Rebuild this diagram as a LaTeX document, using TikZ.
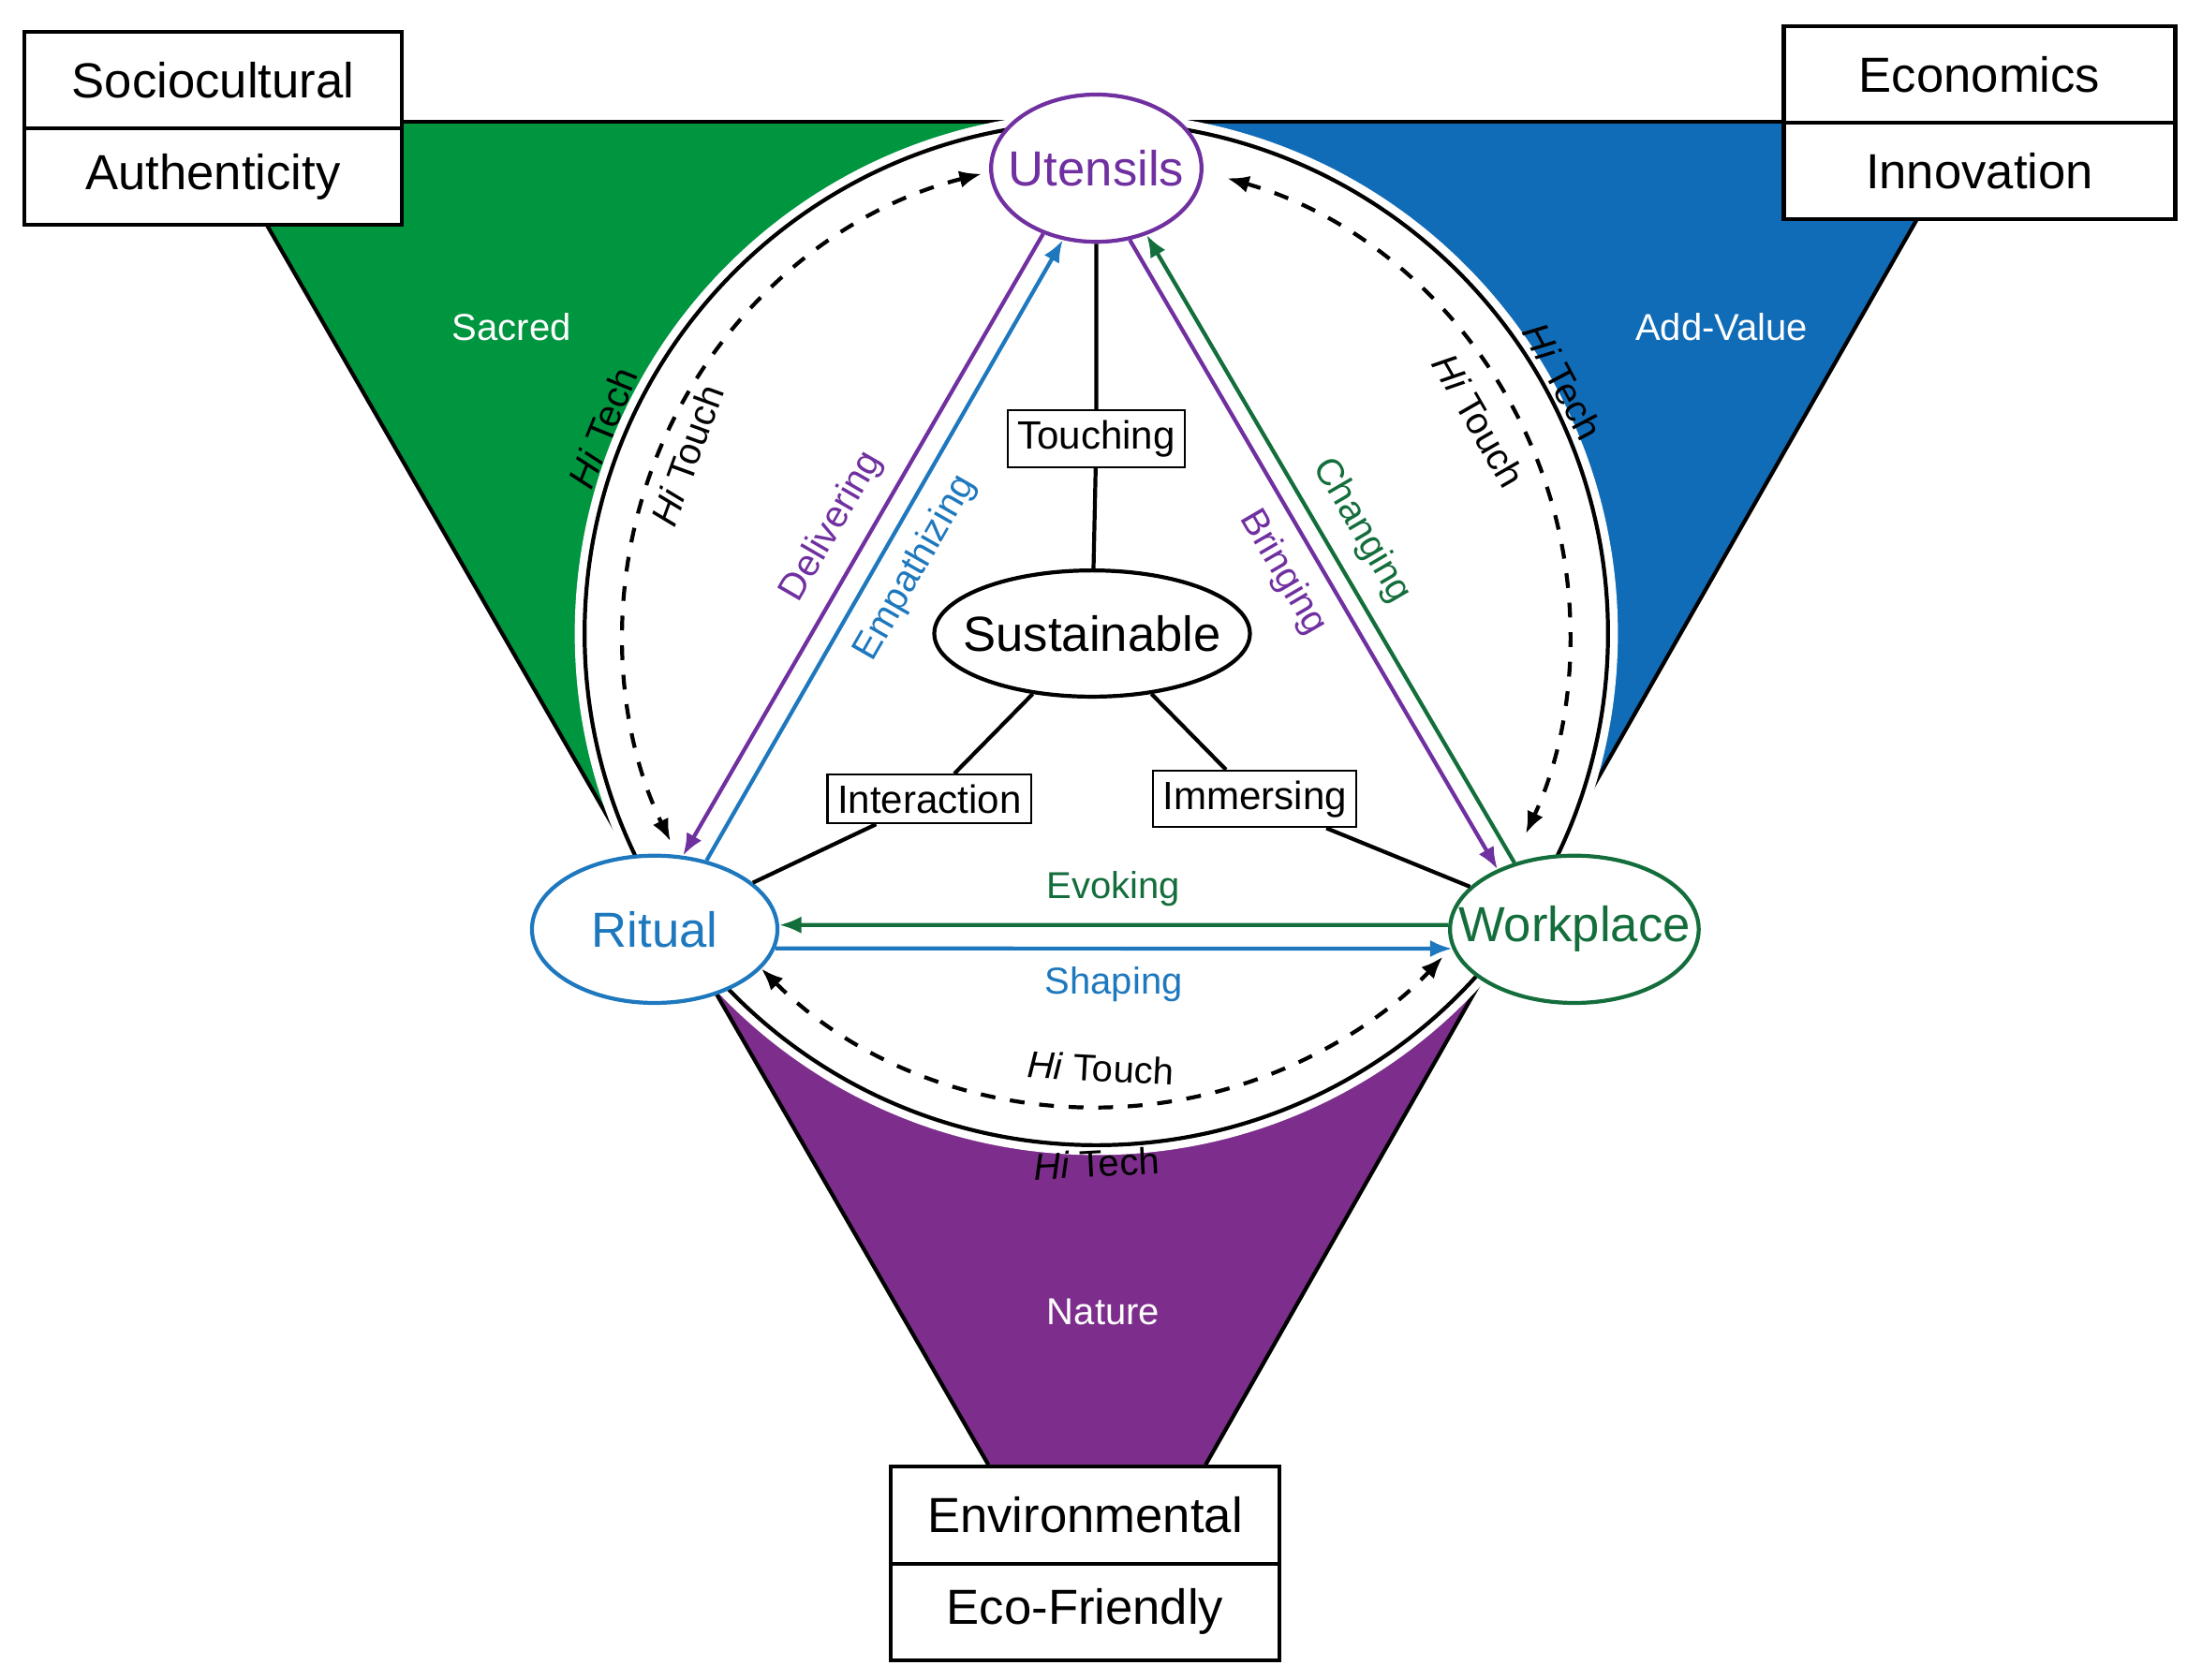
\documentclass[tikz,border=0pt]{standalone}
\usepackage{fontspec}
\setmainfont{Liberation Sans}
\usetikzlibrary{arrows.meta,shapes.geometric,positioning}
\definecolor{sgreen}{RGB}{0,150,64}
\definecolor{sblue}{RGB}{17,108,183}
\definecolor{spurple}{RGB}{125,46,140}
\definecolor{tpurple}{RGB}{112,48,160}
\definecolor{tblue}{RGB}{30,120,190}
\definecolor{tgreen}{RGB}{20,110,60}
\tikzset{
  big/.style={font=\fontsize{10}{12}\selectfont},
  small/.style={font=\fontsize{7.6}{9}\selectfont},
  pole/.style={ellipse,draw,thick,fill=white,inner xsep=-0.2cm,inner ysep=0pt,big},
  tag/.style={draw,thin,fill=white,inner sep=2pt,font=\fontsize{8}{9}\selectfont},
  pair/.style={draw,thick,fill=white,minimum height=0.69cm,big},
  arr/.style={-{Latex[length=4.5pt,width=3.5pt]},thick},
  twoway/.style={thick,dashed,{Latex[length=4.5pt,width=3.5pt]}-{Latex[length=4.5pt,width=3.5pt]}}
}
\begin{document}
\begin{tikzpicture}[x=0.01cm,y=-0.01cm]
\useasboundingbox (0,0) rectangle (1560,1198);
% wedges
\fill[sgreen] (148,87) -- (782,87) -- (782,452) -- (455,620) -- cycle;
\fill[sblue] (782,87) -- (1407,87) -- (1120,590) -- (782,452) -- cycle;
\fill[spurple] (500,690) -- (1062,690) -- (860,1045) -- (705,1045) -- cycle;
\draw[thick] (148,87) -- (455,620);
\draw[thick] (1407,87) -- (1120,590);
\draw[thick] (500,690) -- (705,1045) (1062,690) -- (860,1045);
\draw[thick] (148,87) -- (782,87) -- (1407,87);
% circle
\coordinate (C) at (782,452);
\draw[white,line width=4pt,fill=white] (C) circle (365);
\draw[thick] (C) circle (365);
% dashed Hi Touch arcs
\draw[twoway] ([shift={(-104:338)}]C) arc (-104:-206:338);
\draw[twoway] ([shift={(-74:338)}]C) arc (-74:25:338);
\draw[twoway] ([shift={(135:338)}]C) arc (135:43:338);
% poles
\node[pole,text=tpurple,draw=tpurple,minimum width=1.5cm,minimum height=1.05cm] (U) at (782,120) {Utensils};
\node[pole,text=tblue,draw=tblue,minimum width=1.75cm,minimum height=1.05cm] (R) at (467,663) {Ritual};
\node[pole,text=tgreen,draw=tgreen,minimum width=1.75cm,minimum height=1.05cm] (W) at (1123,663) {Workplace};
\node[pole,minimum width=2.25cm,minimum height=0.9cm] (S) at (779,452) {Sustainable};
\node[tag] (T) at (782,313) {Touching};
\node[tag] (I) at (663,570) {Interaction};
\node[tag] (M) at (895,570) {Immersing};
\draw[thick] (U) -- (T) -- (S);
\draw[thick] (S) -- (I) -- (R);
\draw[thick] (S) -- (M) -- (W);
% arrows between poles
\draw[arr,tpurple] (U.231) -- (R.69) node[midway,above,sloped,small] {Delivering};
\draw[arr,tblue] (R.53) -- (U.245) node[midway,below,sloped,small] {Empathizing};
\draw[arr,tpurple] (U.295) -- (W.142) node[midway,below,sloped,small] {Bringing};
\draw[arr,tgreen] (W.132) -- (U.307) node[midway,above,sloped,small] {Changing};
\draw[arr,tgreen] (W.178) -- (R.2) node[midway,above,small] {Evoking};
\draw[arr,tblue] (R.-9) -- (W.-171) node[midway,below,small] {Shaping};
% Hi Tech / Hi Touch labels
\node[small,rotate=68] at (430,305) {\textit{Hi} Tech};
\node[small,rotate=70] at (490,325) {\textit{Hi} Touch};
\node[small,rotate=-62] at (1115,272) {\textit{Hi} Tech};
\node[small,rotate=-60] at (1055,300) {\textit{Hi} Touch};
\node[small,rotate=-3] at (785,762) {\textit{Hi} Touch};
\node[small,rotate=3] at (782,830) {\textit{Hi} Tech};
% wedge labels
\node[small,white] at (365,233) {Sacred};
\node[small,white] at (1228,233) {Add-Value};
\node[small,white] at (787,936) {Nature};
% corner boxes
\node[pair,minimum width=2.69cm] (SC) at (152,57) {Sociocultural};
\node[pair,minimum width=2.69cm,below=-0.8pt of SC] (AU) {Authenticity};
\node[pair,minimum width=2.79cm] (EC) at (1412,53) {Economics};
\node[pair,minimum width=2.79cm,below=-0.8pt of EC] (IN) {Innovation};
\node[pair,minimum width=2.77cm] (EN) at (774,1081) {Environmental};
\node[pair,minimum width=2.77cm,below=-0.8pt of EN] (EF) {Eco-Friendly};
\end{tikzpicture}
\end{document}
